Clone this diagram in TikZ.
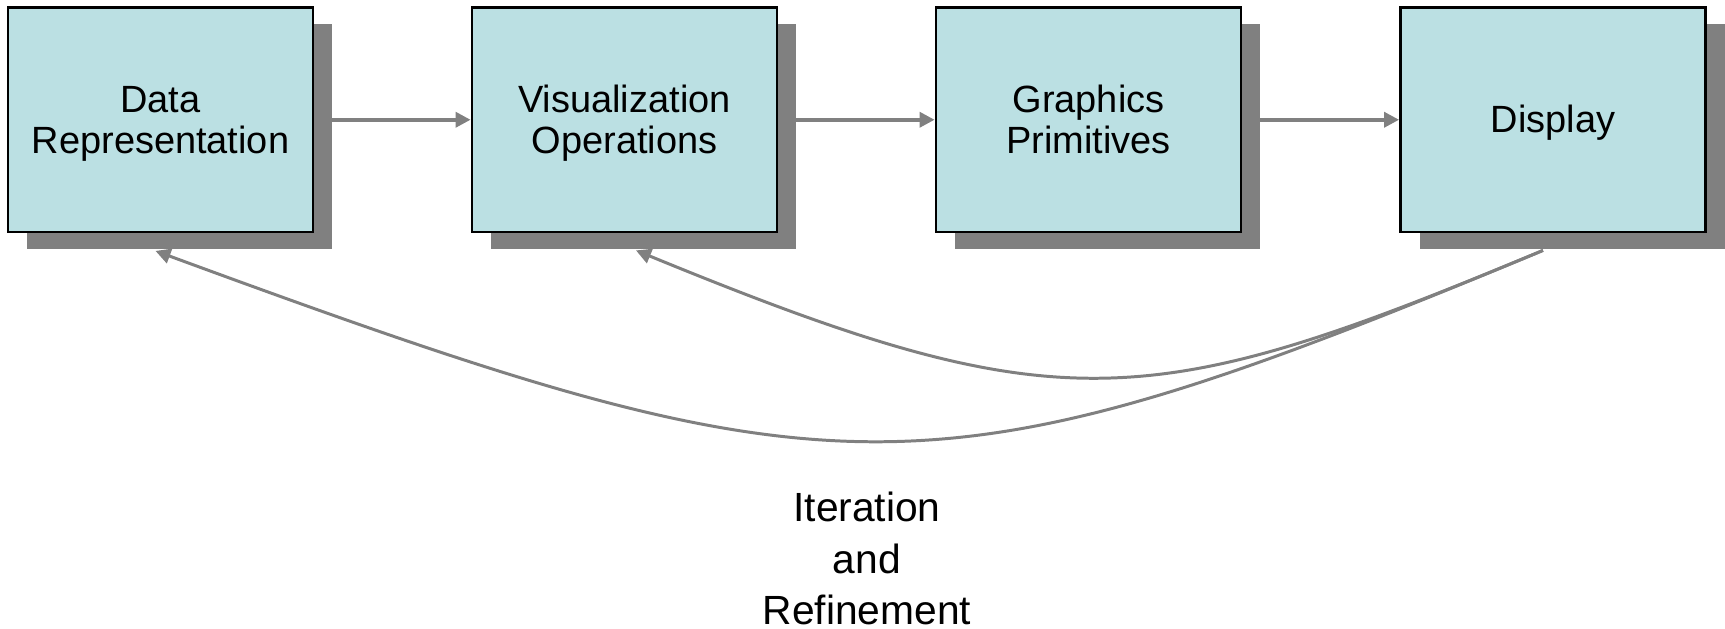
\documentclass[tikz,border=0pt]{standalone}
\usepackage{fontspec}
\setmainfont{Liberation Sans}
\usetikzlibrary{shadows, arrows.meta, calc}
\definecolor{stageblue}{RGB}{187,224,227}
\definecolor{shadowgray}{RGB}{128,128,128}
\tikzstyle{stage}=[draw, line width=0.8pt, fill=stageblue,
  minimum width=3.05cm, minimum height=2.245cm, align=center,
  font=\fontsize{10.8}{11.7}\selectfont,
  text height=9.8pt, text depth=2.3pt,
  drop shadow={shadow xshift=0.19cm, shadow yshift=-0.165cm,
    fill=shadowgray, opacity=1}]
\tikzstyle{stage2}=[stage, text height=21.5pt]
\tikzstyle{flow}=[-{Triangle[length=0.15cm,width=0.15cm]}, draw=shadowgray, line width=1pt]
\tikzstyle{loopback}=[-{Triangle[length=0.15cm,width=0.15cm]}, draw=shadowgray, line width=0.85pt]

\begin{document}
\begin{tikzpicture}
      \useasboundingbox (0,0) rectangle (17.25,-6.28);

      \node[stage2] (data) at (1.605,-1.1975) {Data\\Representation};
      \node[stage2] (visops) at (6.245,-1.1975) {Visualization\\Operations};
      \node[stage2] (graphics) at (10.885,-1.1975) {Graphics\\Primitives};
      \node[stage] (display) at (15.53,-1.1975) {Display};

      \draw[flow] (data) -- (visops);
      \draw[flow] (visops) -- (graphics);
      \draw[flow] (graphics) -- (display);

      % feedback from the display back to earlier stages
      \coordinate (loopstart) at ($(display.south)+(-0.10,-0.17)$);
      \coordinate (dataend) at ($(data.south)+(-0.05,-0.175)$);
      \coordinate (visend) at ($(visops.south)+(0.115,-0.17)$);

      \draw[loopback] (loopstart) ..
      controls ($(loopstart)+(-6.17,-2.57)$) and ($(dataend)+(6.83,-2.51)$) ..
      (dataend);
      \draw[loopback] (loopstart) ..
      controls ($(loopstart)+(-3.96,-1.65)$) and ($(visend)+(4.24,-1.74)$) ..
      (visend);

      \node[font=\fontsize{11.6}{14.7}\selectfont, align=center, inner sep=0]
      (iterlabel) at (8.67,-5.585) {Iteration\\and\\Refinement};
\end{tikzpicture}
\end{document}
